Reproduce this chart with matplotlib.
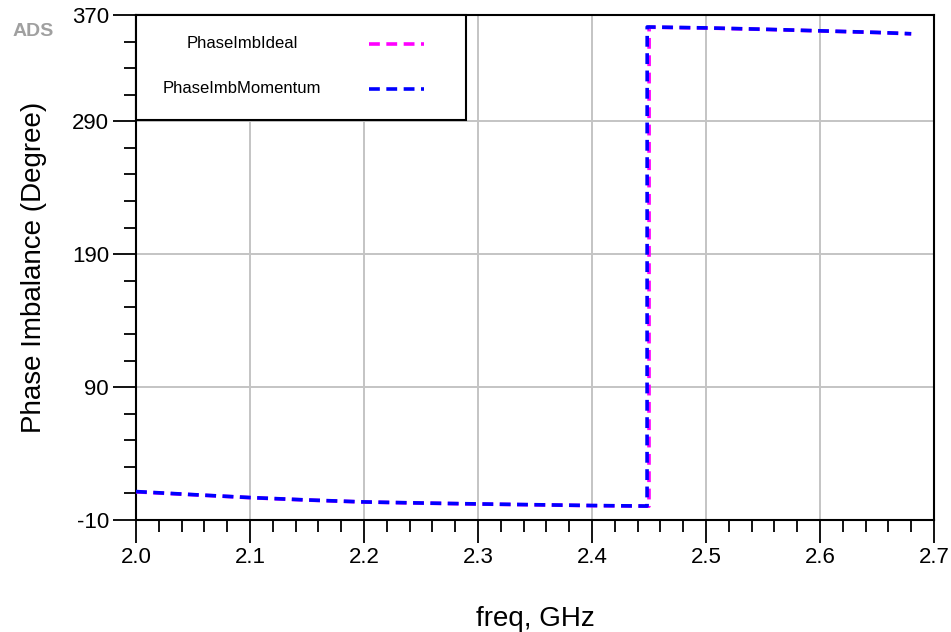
import numpy as np
import matplotlib
matplotlib.use("Agg")
import matplotlib.pyplot as plt
from matplotlib.lines import Line2D
from matplotlib.patches import Rectangle

plt.rcParams['font.family'] = ['Liberation Sans', 'DejaVu Sans']

# Frequency sweep (GHz) and phase imbalance (degrees) for both simulations
freq_ideal = [2.00, 2.05, 2.10, 2.15, 2.20, 2.25, 2.30, 2.35, 2.40, 2.4500,
              2.4501, 2.50, 2.55, 2.60, 2.65, 2.68]
phase_ideal = [11.2, 9.0, 6.8, 5.0, 3.5, 2.7, 2.0, 1.4, 0.8, 0.4,
               360.8, 360.2, 359.2, 358.0, 356.8, 355.8]

freq_momentum = [2.00, 2.05, 2.10, 2.15, 2.20, 2.25, 2.30, 2.35, 2.40, 2.4483,
                 2.4484, 2.50, 2.55, 2.60, 2.65, 2.68]
phase_momentum = [11.4, 9.1, 6.9, 5.1, 3.6, 2.8, 2.1, 1.5, 0.9, 0.5,
                  361.0, 360.3, 359.3, 358.1, 356.9, 355.9]

series_names = ["PhaseImbIdeal", "PhaseImbMomentum"]
series_colors = ["#FF00FF", "#0000FF"]

x_ticks = [2.0, 2.1, 2.2, 2.3, 2.4, 2.5, 2.6, 2.7]
y_ticks = [-10, 90, 190, 290, 370]

W, H = 951, 632
fig = plt.figure(figsize=(W / 100, H / 100), dpi=100)
left, right, top, bottom = 136, 934, 15, 520
ax = fig.add_axes([left / W, (H - bottom) / H, (right - left) / W, (bottom - top) / H])

dash = (0, (3.0, 1.8))
ax.plot(freq_ideal, phase_ideal, color=series_colors[0], lw=2.6, linestyle=dash, zorder=3)
ax.plot(freq_momentum, phase_momentum, color=series_colors[1], lw=2.6, linestyle=dash, zorder=4)

ax.set_xlim(2.0, 2.7)
ax.set_ylim(-10, 370)
ax.set_xticks(x_ticks)
ax.set_xticklabels([f"{v:.1f}" for v in x_ticks])
ax.set_yticks(y_ticks)
ax.set_yticklabels([str(v) for v in y_ticks])
ax.set_xticks(np.arange(2.0, 2.7001, 0.02), minor=True)
ax.set_yticks(np.arange(-10, 370.01, 20), minor=True)

ax.tick_params(axis='both', which='major', direction='out', length=16.5, width=1.3,
               labelsize=16, pad=3, color='black')
ax.tick_params(axis='both', which='minor', direction='out', length=8.5, width=1.3,
               color='black')

for s in ax.spines.values():
    s.set_linewidth(1.5)
    s.set_color('black')

ax.grid(True, which='major', color='#c4c4c4', lw=1.4, zorder=0)
ax.set_axisbelow(True)

ax.set_ylabel("Phase Imbalance (Degree)", fontsize=20, labelpad=18)
ax.set_xlabel("freq, GHz", fontsize=20, labelpad=27)

# Legend block in the upper-left corner of the axes
lw_ax = (466 - left) / (right - left)
lh_ax = (120 - top) / (bottom - top)
ax.add_patch(Rectangle((0, 1 - lh_ax), lw_ax, lh_ax, transform=ax.transAxes,
                       facecolor='white', edgecolor='black', lw=1.5, zorder=5,
                       clip_on=False))
text_x = (242 - left) / (right - left)
line_x0 = (369 - left) / (right - left)
line_x1 = (424 - left) / (right - left)
rows_y = [1 - (44 - top) / (bottom - top), 1 - (89 - top) / (bottom - top)]
for name, color, yy in zip(series_names, series_colors, rows_y):
    ax.text(text_x, yy, name, transform=ax.transAxes, ha='center', va='center',
            fontsize=12, zorder=6)
    ax.add_line(Line2D([line_x0, line_x1], [yy, yy], transform=ax.transAxes,
                       color=color, lw=2.6, linestyle=(0, (3.0, 1.8)), zorder=6))

fig.text(33 / W, 1 - 31 / H, "ADS", ha='center', va='center', fontsize=14,
         color='#a0a0a0', fontweight='semibold')

fig.savefig("out.png", dpi=100)
